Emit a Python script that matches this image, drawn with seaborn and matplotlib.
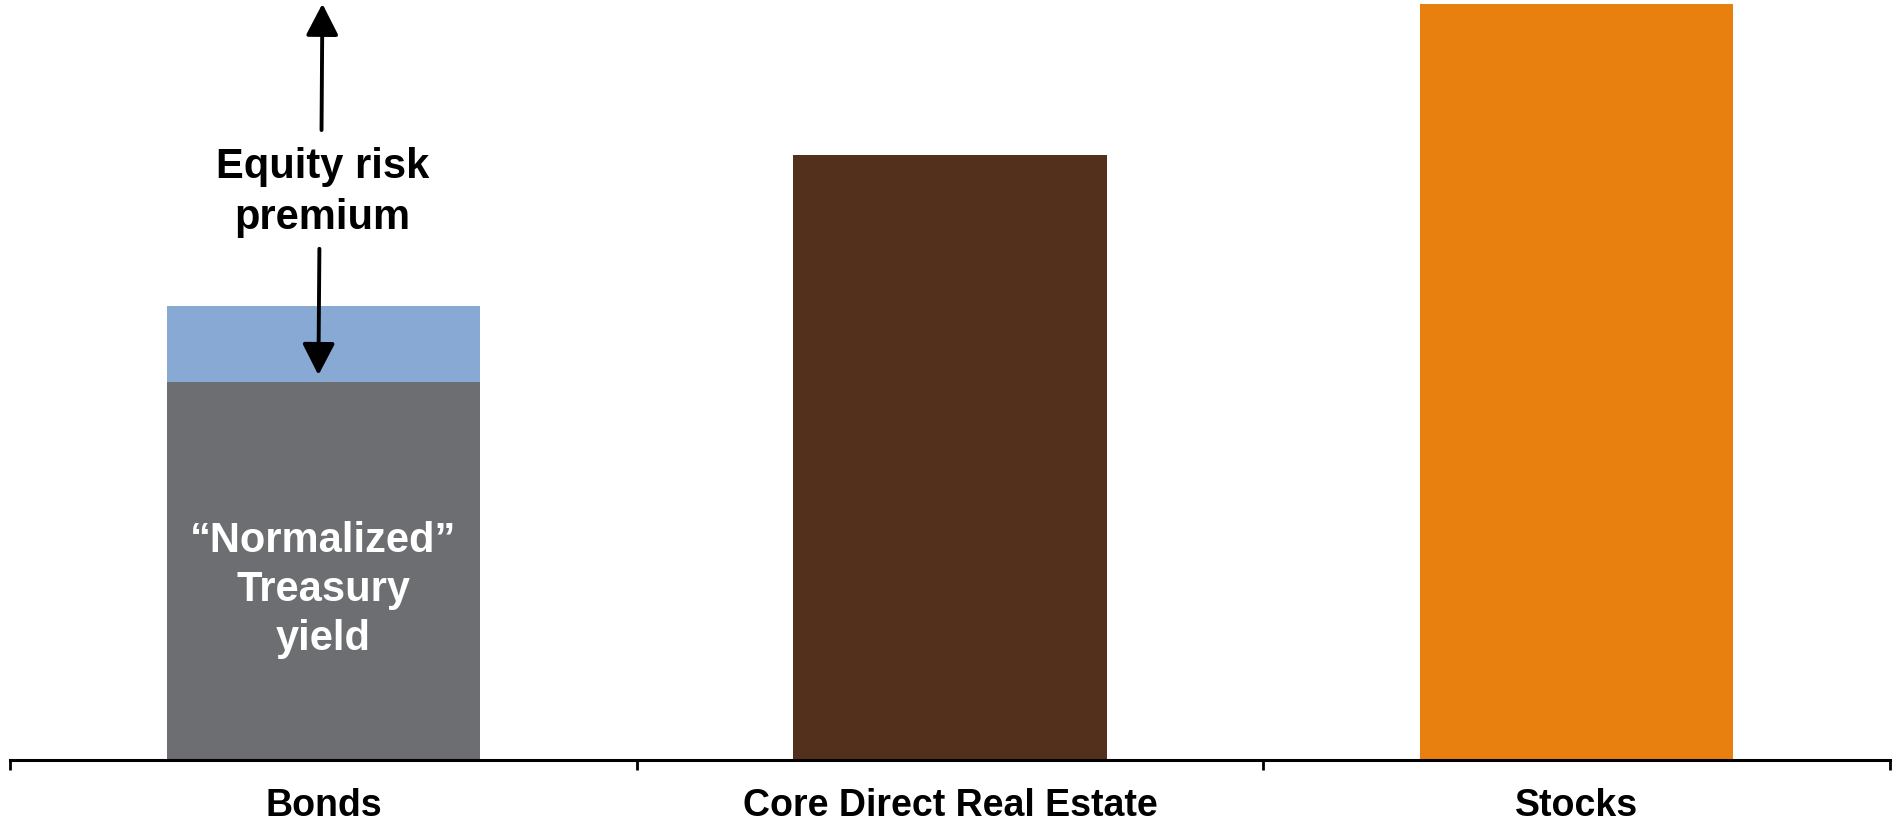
import matplotlib
matplotlib.use("Agg")
import matplotlib.pyplot as plt
from matplotlib.ticker import FixedLocator
import pandas as pd
import seaborn as sns

# Categories and expected-return building blocks (relative units)
categories = ["Bonds", "Core Direct Real Estate", "Stocks"]
treasury_yield = [5.0, 0.0, 0.0]          # "normalized" Treasury yield (bonds only)
total_return = [6.0, 8.0, 10.0]           # top of each bar
erp_label = "Equity risk\npremium"
treasury_label = "\u201cNormalized\u201d\nTreasury\nyield"

top_colors = {"Bonds": "#87A9D3", "Core Direct Real Estate": "#53301C", "Stocks": "#E8800F"}
base_color = "#6D6E72"

sns.set_style("white")
plt.rcParams["font.family"] = ["Liberation Sans", "DejaVu Sans"]
plt.rcParams["font.weight"] = "bold"

fig = plt.figure(figsize=(19.02, 8.25), dpi=100)
ax = fig.add_axes([0.0053, 0.0788, 0.9884, 0.9212])

df_top = pd.DataFrame({"category": categories, "value": total_return})
df_base = pd.DataFrame({"category": categories, "value": treasury_yield})

sns.barplot(data=df_top, x="category", y="value", hue="category", order=categories,
            palette=top_colors, width=0.5, saturation=1, legend=False,
            linewidth=0, edgecolor="none", ax=ax)
sns.barplot(data=df_base, x="category", y="value", order=categories,
            color=base_color, width=0.5, saturation=1,
            linewidth=0, edgecolor="none", ax=ax)

ax.set_xlim(-0.5, len(categories) - 0.5)
ax.set_ylim(0, total_return[2] * 1.005)

# Axis styling: only the baseline with ticks between categories
for side in ("left", "top", "right"):
    ax.spines[side].set_visible(False)
ax.spines["bottom"].set_color("black")
ax.spines["bottom"].set_linewidth(2.2)
ax.set_yticks([])
ax.set_xlabel("")
ax.set_ylabel("")
ax.xaxis.set_minor_locator(FixedLocator([i - 0.5 for i in range(len(categories) + 1)]))
ax.tick_params(axis="x", which="minor", length=7, width=2, color="black", direction="out", bottom=True)
ax.tick_params(axis="x", which="major", length=0, pad=20, labelsize=27, labelcolor="black")
for lbl in ax.get_xticklabels():
    lbl.set_fontweight("bold")

# Treasury yield label inside the bond bar
ax.text(0, 2.25, treasury_label, ha="center", va="center",
        color="white", fontsize=30, fontweight="bold", linespacing=1.3)

# Equity risk premium annotation with arrows
ax.text(-0.001, 7.5, erp_label, ha="center", va="center", color="black",
        fontsize=30, fontweight="bold", linespacing=1.35)
arrow = dict(arrowstyle="-|>,head_length=0.97,head_width=0.5", mutation_scale=20,
             lw=2.8, color="black", shrinkA=0, shrinkB=0)
ax.annotate("", xy=(-0.0016, total_return[2]), xytext=(-0.003, 8.33), arrowprops=arrow)
ax.annotate("", xy=(-0.008, treasury_yield[0] + 0.09), xytext=(-0.0064, 6.76), arrowprops=arrow)

fig.savefig("out.png", dpi=100)
